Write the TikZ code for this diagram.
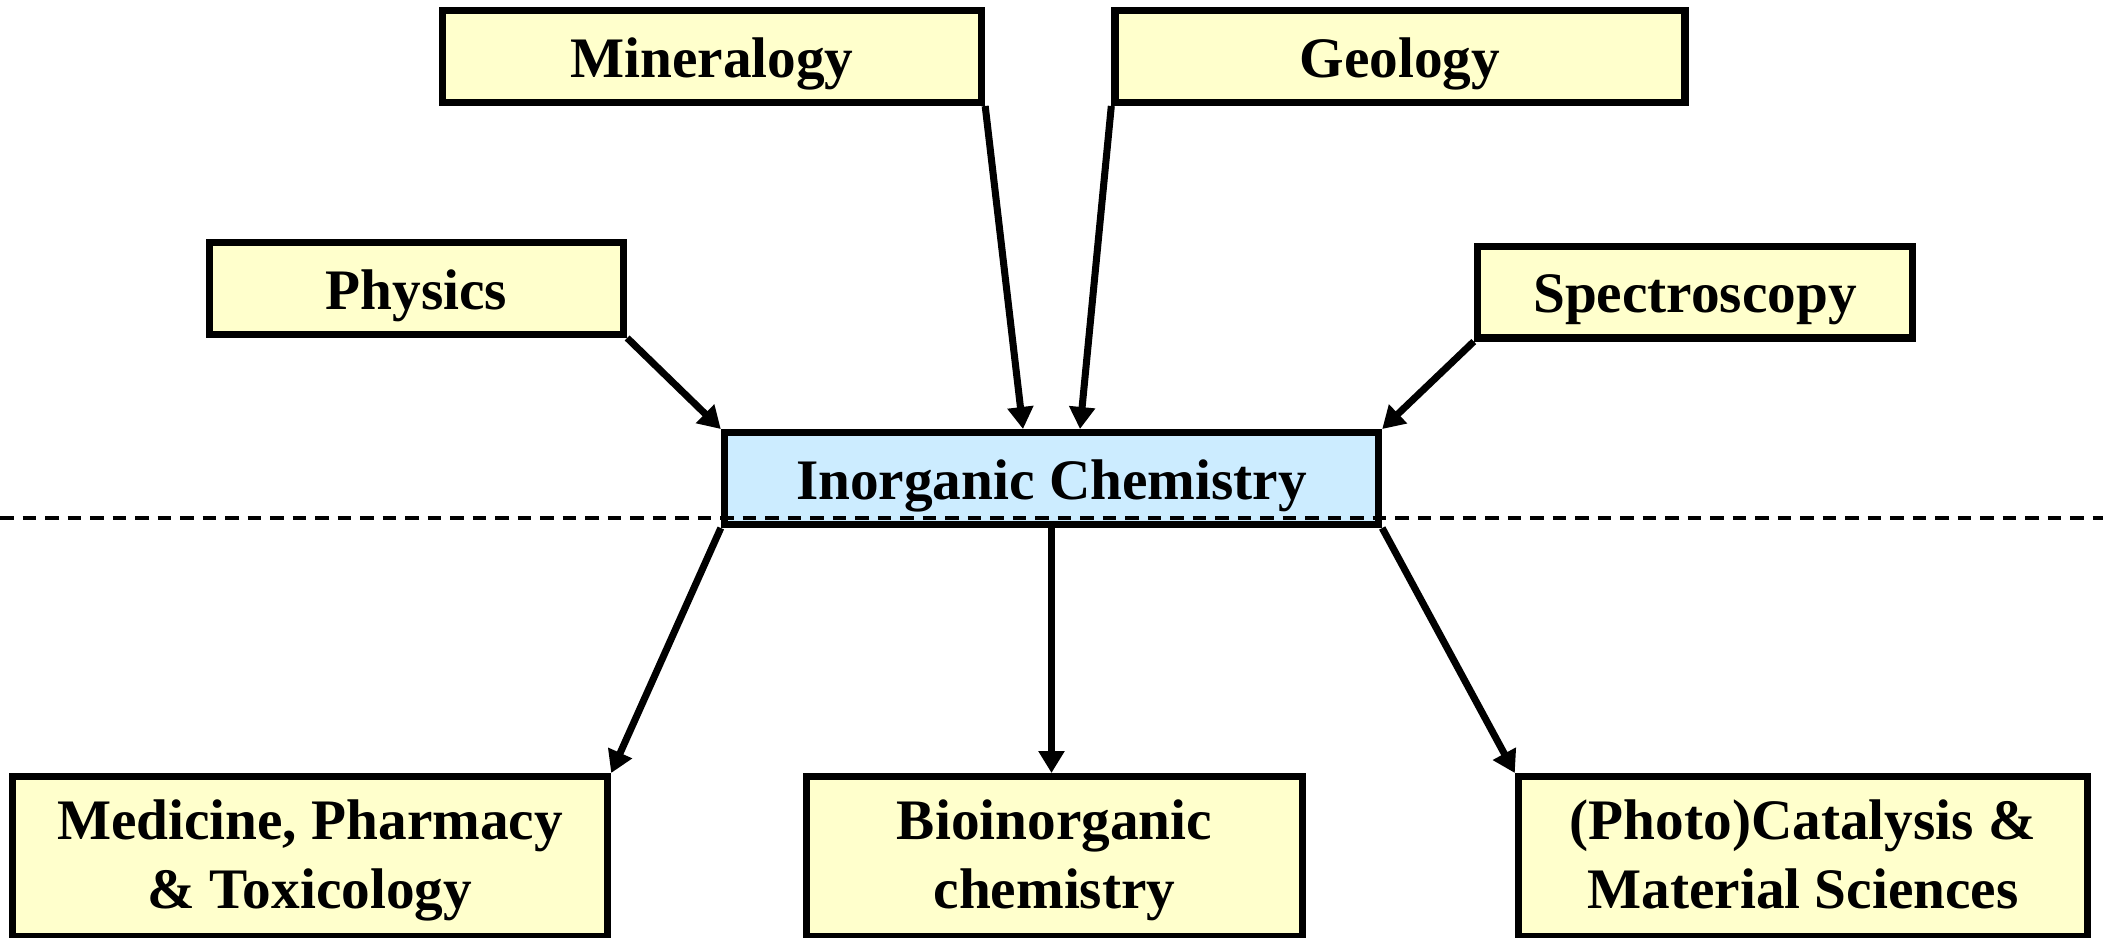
\documentclass[tikz,border=0pt]{standalone}
\usepackage{fontspec}
\setmainfont{Liberation Serif}
\usetikzlibrary{arrows.meta}
\definecolor{fieldyellow}{HTML}{FFFFCC}
\definecolor{coreblue}{HTML}{CCECFF}

\begin{document}
\begin{tikzpicture}[
  field/.style={draw, line width=2.1pt, fill=fieldyellow, inner sep=0pt, align=center,
    minimum height=0.916cm, text height=0.51cm, text depth=0.1cm,
    font=\fontsize{16.3}{19.6}\selectfont\bfseries},
  twoline/.style={field, minimum height=1.596cm, text height=32.4pt, text depth=0.1cm},
  core/.style={field, fill=coreblue},
  link/.style={line width=2pt, -{Triangle[length=2.2mm,width=2.5mm]}}
]
  \useasboundingbox (0,0) rectangle (21.03,-9.37);
  % sources
  \node[field, minimum width=5.39cm] (min) at (7.12,-0.565) {Mineralogy};
  \node[field, minimum width=5.70cm] (geo) at (14.00,-0.565) {Geology};
  \node[field, minimum width=4.14cm] (phys) at (4.165,-2.885) {Physics};
  \node[field, minimum width=4.35cm] (spec) at (16.95,-2.92) {Spectroscopy};
  \node[core, minimum width=6.54cm] (ic) at (10.515,-4.785) {Inorganic Chemistry};
  % applications
  \node[twoline, minimum width=5.95cm] (med) at (3.10,-8.565) {Medicine, Pharmacy\\\& Toxicology};
  \node[twoline, minimum width=4.96cm] (bio) at (10.545,-8.565) {Bioinorganic\\chemistry};
  \node[twoline, minimum width=5.69cm] (cat) at (18.03,-8.565) {(Photo)Catalysis \&\\Material Sciences};
  \coordinate (sepl) at (0,-5.18);
  \coordinate (sepr) at (21.03,-5.18);
  \draw[line width=1.3pt, dash pattern=on 1.35mm off 0.9mm] (sepl) -- (sepr);
  \draw[link] (phys.south east) -- (ic.north west);
  \draw[link] (min.south east) -- ([xshift=-2.85mm]ic.north);
  \draw[link] (geo.south west) -- ([xshift=2.85mm]ic.north);
  \draw[link] (spec.south west) -- (ic.north east);
  \draw[link] (ic.south west) -- (med.north east);
  \draw[link] (ic.south) -- (ic.south |- bio.north);
  \draw[link] (ic.south east) -- (cat.north west);
\end{tikzpicture}
\end{document}
